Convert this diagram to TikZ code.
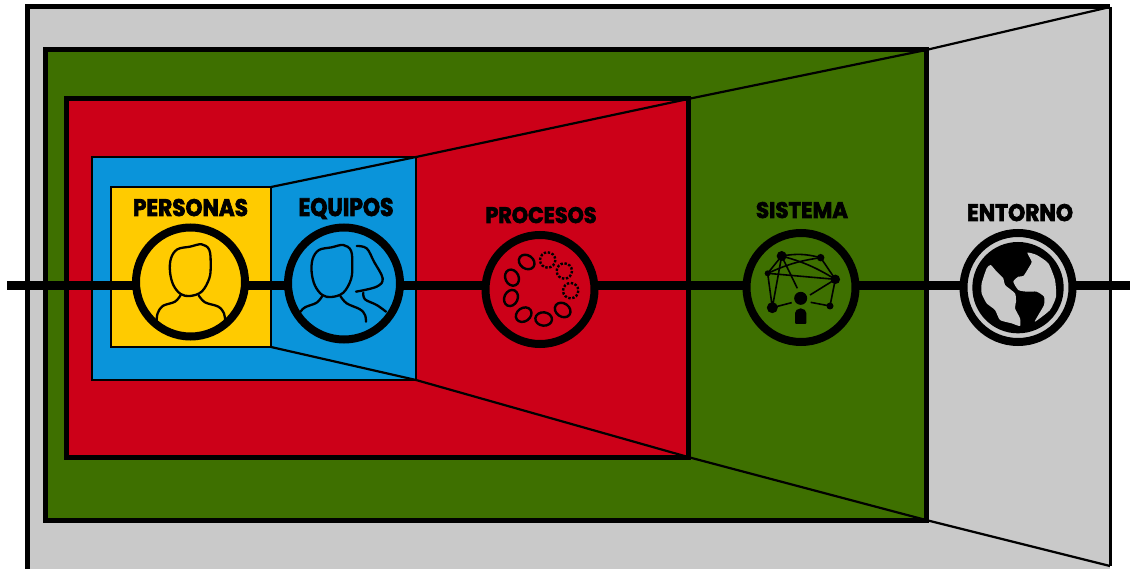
\documentclass[tikz,border=0pt]{standalone}
\usepackage{fontspec}
\usepackage{graphicx}
\setmainfont{Poppins}[BoldFeatures={FakeBold=3}]
\definecolor{cgray}{HTML}{C9C9C9}
\definecolor{cgreen}{HTML}{3E7000}
\definecolor{cred}{HTML}{CC0018}
\definecolor{cblue}{HTML}{0A94DA}
\definecolor{cyellow}{HTML}{FFCB00}
\newcommand{\lab}[3]{\resizebox{#1pt}{#2pt}{\bfseries #3}}
\tikzset{
 box/.style={rectangle,draw=black,anchor=north west,inner sep=0pt,outer sep=0pt},
 ringnode/.style={circle,draw=black,line width=8pt,inner sep=0pt,outer sep=0pt,minimum size=109pt},
 title/.style={anchor=base,inner sep=0pt,text=black},
 axis/.style={line width=9pt},
 funnel/.style={line width=2.2pt},
 icon/.style={line width=2.3pt,line join=round,line cap=round},
 net/.style={line width=1.6pt},
 netdot/.style={circle,fill=black,inner sep=0pt,outer sep=0pt}
}
\begin{document}
\begin{tikzpicture}[x=1pt,y=-1pt]
\useasboundingbox (0,0) rectangle (1130,569);
\clip (0,0) rectangle (1130,569);
\fill[white] (0,0) rectangle (1130,569);
% nested frames
\node[box,draw=none,fill=cgray,minimum width=1083pt,minimum height=565pt] (outer) at (27,7) {};
\draw[line width=5pt] (outer.south west) -- (outer.north west) -- (outer.north east);
\draw[line width=3pt] (outer.north east) -- (1110,566);
\coordinate (outerfoot) at (1110,566);
\node[box,fill=cgreen,line width=5pt,minimum width=881pt,minimum height=470pt] (green) at (45,50) {};
\node[box,fill=cred,line width=5pt,minimum width=622pt,minimum height=358pt] (red) at (66,99) {};
\node[box,fill=cblue,line width=2.2pt,minimum width=324pt,minimum height=223pt] (blue) at (92,157) {};
\node[box,fill=cyellow,line width=2.2pt,minimum width=160pt,minimum height=160pt] (yellow) at (111,187) {};
% funnel
\draw[funnel] (yellow.north east) -- (blue.north east) -- (red.north east) -- (green.north east) -- (outer.north east);
\draw[funnel] (yellow.south east) -- (blue.south east) -- (red.south east) -- (green.south east) -- (outerfoot);
% rings
\node[ringnode] (personas) at (190.5,282) {};
\node[ringnode,minimum size=112pt] (equipos) at (344,283.5) {};
\node[ringnode] (procesos) at (540,289.5) {};
\node[ringnode] (sistema) at (801,287.5) {};
\node[ringnode] (entorno) at (1018,287.5) {};
% axis
\coordinate (axisL) at (7,286);
\coordinate (axisR) at (1130,286);
\draw[axis] (axisL) -- (personas.west |- axisL);
\draw[axis] (personas.east |- axisL) -- (equipos.west |- axisL);
\draw[axis] (equipos.east |- axisL) -- (procesos.west |- axisL);
\draw[axis] (procesos.east |- axisL) -- (sistema.west |- axisL);
\draw[axis] (sistema.east |- axisL) -- (entorno.west |- axisL);
\draw[axis] (entorno.east |- axisL) -- (axisR);
% titles
\node[title] (tpersonas) at (190.5,216) {\lab{115}{17}{PERSONAS}};
\node[title] (tequipos) at (346,216) {\lab{95}{18}{EQUIPOS}};
\node[title] (tprocesos) at (541,223) {\lab{111}{16}{PROCESOS}};
\node[title] (tsistema) at (802,218) {\lab{92}{16}{SISTEMA}};
\node[title] (tentorno) at (1020,221) {\lab{106}{17}{ENTORNO}};
% person icon
\begin{scope}[shift={(90,150)},scale=1/3]
 \draw[icon] plot[smooth cycle,tension=.6] coordinates {(300,438)(335,425)(358,385)(362,345)(358,300)(335,283)(300,290)(262,298)(243,325)(240,365)(250,405)(272,432)};
 \draw[icon] plot[smooth,tension=.6] coordinates {(272,435)(255,455)(218,468)(203,490)(200,512)};
 \draw[icon] plot[smooth,tension=.6] coordinates {(326,436)(345,457)(385,470)(402,490)(405,510)};
\end{scope}
% two persons icon
\begin{scope}[shift={(90,150)},scale=1/3]
 \draw[icon] plot[smooth cycle,tension=.6] coordinates {(725,441)(760,428)(783,388)(787,345)(783,302)(760,285)(725,292)(687,300)(668,327)(665,367)(675,407)(697,435)};
 \draw[icon] plot[smooth,tension=.6] coordinates {(697,438)(680,458)(645,472)(630,487)};
 \draw[icon] plot[smooth,tension=.6] coordinates {(751,438)(770,460)(810,478)(825,495)(828,515)};
 \draw[icon] plot[smooth,tension=.6] coordinates {(800,288)(830,295)(852,335)(878,385)(860,410)(798,425)};
 \draw[icon] plot[smooth,tension=.6] coordinates {(820,428)(825,448)(860,465)(888,485)};
\end{scope}
% process icon
\begin{scope}[shift={(450,190)},scale=1/3]
 \foreach \x/\y/\r in {230/216/-35,186/263/-65,183/324/65,221/374/35,281/387/-5,338/360/-35}
  \draw[line width=2.4pt,rotate around={\r:(\x,\y)}] (\x,\y) ellipse (25 and 20);
 \foreach \x/\y in {293/210,343/243,362/302}
  \draw[line width=2.4pt,dash pattern=on 2.4pt off 1.6pt] (\x,\y) circle (23);
\end{scope}
% system icon
\begin{scope}[shift={(720,190)},scale=1/3]
 \coordinate (na) at (185,198);
 \coordinate (nb) at (302,203);
 \coordinate (nc) at (143,250);
 \coordinate (nd) at (346,268);
 \coordinate (ne) at (157,353);
 \coordinate (nf) at (330,348);
 \coordinate (ng) at (242,325);
 \draw[net] (na) to[bend left=12] (nb);
 \draw[net] (na) to[bend left=8] (nd);
 \draw[net] (na) -- (nc) (na) -- (ne) (nc) -- (nd) (nb) -- (nd) (nd) -- (nf) (nc) -- (ne);
 \draw[net] (nc) to[bend left=8] (nb);
 \draw[net] (270,315) -- (nd) (232,295) -- (na) (ne) -- (215,338) (nf) -- (272,337);
 \node[netdot,minimum size=10pt] at (na) {};
 \node[netdot,minimum size=7.5pt] at (nb) {};
 \node[netdot,minimum size=6pt] at (nc) {};
 \node[netdot,minimum size=9.5pt] at (nd) {};
 \node[netdot,minimum size=11pt] at (ne) {};
 \node[netdot,minimum size=7pt] at (nf) {};
 \node[netdot,minimum size=13pt] at (ng) {};
 \fill[rounded corners=1pt] (225,402) -- (225,372) arc[start angle=180,end angle=360,radius=17] -- (259,402) -- cycle;
\end{scope}
% globe icon
\begin{scope}[shift={(970,240)},scale=1/3]
 \fill (144,143) circle (137);
 \fill[cgray] plot[smooth cycle,tension=.35] coordinates {(35,130)(50,85)(62,75)(80,95)(100,115)(105,135)(135,160)(138,185)(135,205)(150,235)(150,258)(125,250)(90,240)(75,210)(50,190)(35,160)};
 \fill[cgray] plot[smooth cycle,tension=.35] coordinates {(172,38)(200,45)(235,70)(255,120)(258,170)(240,210)(195,245)(205,225)(222,195)(222,170)(200,155)(170,155)(145,150)(130,125)(145,110)(160,108)(175,85)(185,65)};
\end{scope}
\end{tikzpicture}
\end{document}
